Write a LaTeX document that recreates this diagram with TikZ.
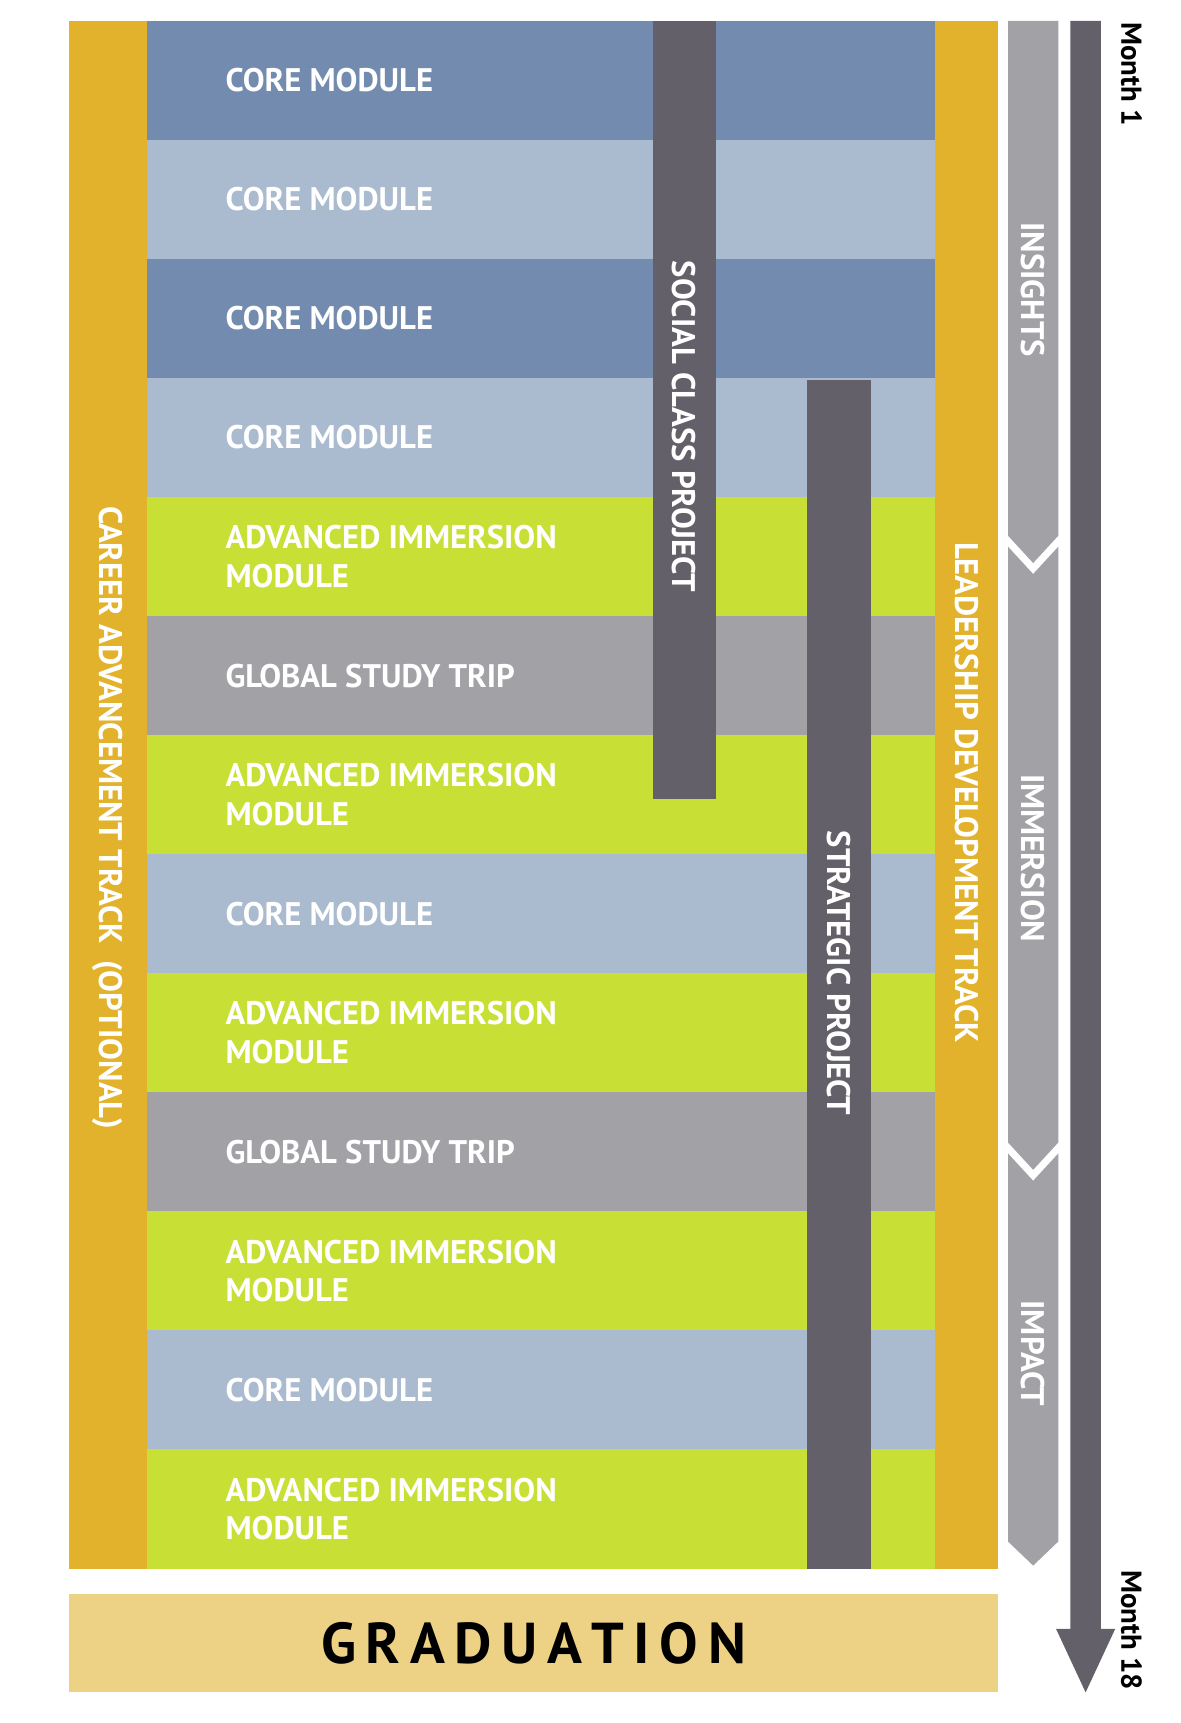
\documentclass[tikz,border=0pt]{standalone}
\usepackage{fontspec}
\setmainfont{PT Sans}
\usetikzlibrary{positioning}
\definecolor{darkblue}{HTML}{728BAE}
\definecolor{lightblue}{HTML}{AABACF}
\definecolor{lime}{HTML}{C8DF35}
\definecolor{tripgrey}{HTML}{A2A1A6}
\definecolor{slate}{HTML}{636069}
\definecolor{track}{HTML}{E2B22C}
\definecolor{gradfill}{HTML}{EDD286}
\tikzset{
  rowlabel/.style={anchor=west,text=white,font=\bfseries\fontsize{17}{20}\selectfont,align=left,inner sep=0pt},
  barlabel/.style={rotate=-90,text=white,font=\bfseries\fontsize{17}{20}\selectfont,inner sep=0pt},
  tracklabel/.style={rotate=-90,text=white,font=\bfseries\fontsize{17}{20}\selectfont,inner sep=0pt},
  phase/.style={fill=tripgrey},
  monthlabel/.style={rotate=-90,font=\bfseries\fontsize{15}{18}\selectfont,inner sep=0pt}
}
\begin{document}
\begin{tikzpicture}[x=0.02cm,y=-0.02cm]
   \useasboundingbox (0,0) rectangle (1080,1576);
   % rows of modules
   \foreach \c/\t [count=\i] in {darkblue/CORE MODULE,lightblue/CORE MODULE,darkblue/CORE MODULE,lightblue/CORE MODULE,lime/{ADVANCED IMMERSION\\MODULE},tripgrey/GLOBAL STUDY TRIP,lime/{ADVANCED IMMERSION\\MODULE},lightblue/CORE MODULE,lime/{ADVANCED IMMERSION\\MODULE},tripgrey/GLOBAL STUDY TRIP,lime/{ADVANCED IMMERSION\\MODULE},lightblue/CORE MODULE,lime/{ADVANCED IMMERSION\\MODULE}}
   {
     \fill[\c] (134,{19+(\i-1)*108.9}) rectangle (855,{19+\i*108.9});
     \node[rowlabel] (row\i) at (206,{19+(\i-0.5)*108.9}) {\t};
   }
   % side tracks
   \fill[track] (63,19) rectangle (134,1435);
   \node[tracklabel] (career) at (98,748) {CAREER ADVANCEMENT TRACK\ \ (OPTIONAL)};
   \fill[track] (855,19) rectangle (913,1435);
   \node[tracklabel] (leader) at (884,725) {LEADERSHIP DEVELOPMENT TRACK};
   % projects
   \fill[slate] (597,19) rectangle (655,731);
   \node[barlabel] (social) at (626,390) {SOCIAL CLASS PROJECT};
   \fill[slate] (738,348) rectangle (797,1435);
   \node[barlabel] (strategic) at (767,890) {STRATEGIC PROJECT};
   % graduation
   \fill[gradfill] (63,1458) rectangle (913,1548);
   \node[font=\bfseries\fontsize{30}{34}\selectfont] (grad) at (488,1503) {G\,R\,A\,D\,U\,A\,T\,I\,O\,N};
   % phases
   \fill[phase] (922,19) -- (968,19) -- (968,490) -- (945,515) -- (922,490) -- cycle;
   \node[tracklabel] (insights) at (945,265) {INSIGHTS};
   \fill[phase] (922,500) -- (945,525) -- (968,500) -- (968,1045) -- (945,1070) -- (922,1045) -- cycle;
   \node[tracklabel] (immersion) at (945,785) {IMMERSION};
   \fill[phase] (922,1055) -- (945,1080) -- (968,1055) -- (968,1410) -- (945,1432) -- (922,1410) -- cycle;
   \node[tracklabel] (impact) at (945,1238) {IMPACT};
   % timeline
   \fill[slate] (979,19) -- (1007,19) -- (1007,1490) -- (1020,1490) -- (993,1548) -- (966,1490) -- (979,1490) -- cycle;
   \node[monthlabel,anchor=west] (m1) at (1035,20) {Month 1};
   \node[monthlabel,anchor=west] (m18) at (1035,1436) {Month 18};
\end{tikzpicture}
\end{document}
